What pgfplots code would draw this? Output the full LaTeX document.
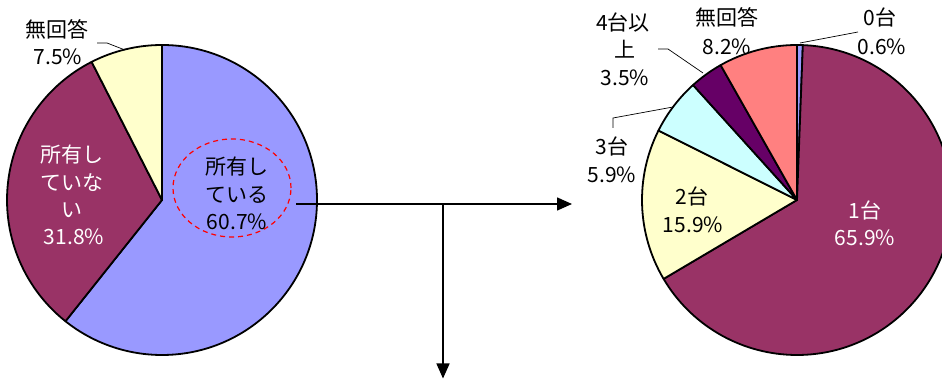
\documentclass[border=0pt]{standalone}
\usepackage{fontspec}
\setmainfont{Noto Sans CJK JP}
\usepackage{pgfplots}
\pgfplotsset{compat=1.18}
\usetikzlibrary{arrows.meta}
\definecolor{cLav}{HTML}{9999FF}
\definecolor{cMag}{HTML}{993366}
\definecolor{cYel}{HTML}{FFFFCC}
\definecolor{cCya}{HTML}{CCFFFF}
\definecolor{cPur}{HTML}{660066}
\definecolor{cSal}{HTML}{FF8080}
% #1 cx, #2 cy, #3 r, #4 cumulative start (%), #5 value (%), #6 colour
\newcommand{\slice}[6]{%
  \filldraw[fill=#6,draw=black,line width=1.8pt,line join=round]
    (axis cs:#1,#2) -- ++({90-3.6*(#4)}:#3pt)
    arc[start angle={90-3.6*(#4)},end angle={90-3.6*(#4+#5)},radius=#3pt] -- cycle;}
\newcommand{\lbl}[4][black]{%
  \node[anchor=base,text=#1,inner sep=0pt,font=\fontsize{21pt}{25pt}\selectfont] at (axis cs:#2,{379-#3-7.5}) {#4};}
\begin{document}
\begin{tikzpicture}
\begin{axis}[x=1pt,y=1pt,xmin=0,xmax=942,ymin=0,ymax=379,
  hide axis,clip=true,anchor=south west,at={(0,0)}]
% left pie: 所有している / 所有していない / 無回答
\slice{162}{179}{155}{0}{60.7}{cLav}
\slice{162}{179}{155}{60.7}{31.8}{cMag}
\slice{162}{179}{155}{92.5}{7.5}{cYel}
% right pie: 0台 / 1台 / 2台 / 3台 / 4台以上 / 無回答
\slice{797}{179}{155}{0}{0.6}{cLav}
\slice{797}{179}{155}{0.6}{65.9}{cMag}
\slice{797}{179}{155}{66.5}{15.9}{cYel}
\slice{797}{179}{155}{82.4}{5.9}{cCya}
\slice{797}{179}{155}{88.3}{3.5}{cPur}
\slice{797}{179}{155}{91.8}{8.2}{cSal}
% dashed ellipse
\draw[red,dashed,line width=1.2pt,dash pattern=on 5pt off 4pt] (axis cs:232,191) ellipse[x radius=59pt,y radius=49pt];
% arrows
\draw[line width=1.5pt,-{Triangle[length=15pt,width=13pt]}] (axis cs:296,175) -- (axis cs:572,175);
\draw[line width=2.5pt] (axis cs:403,175) -- (axis cs:443,175);
\draw[line width=1.5pt,-{Triangle[length=15pt,width=13pt]}] (axis cs:443,175) -- (axis cs:443,0.5);
% leader lines
\draw[line width=0.7pt] (axis cs:97,336) -- (axis cs:107,336) -- (axis cs:125,329);
\draw[line width=0.7pt] (axis cs:658,330) -- (axis cs:668,330) -- (axis cs:703,306);
\draw[line width=0.7pt] (axis cs:858,347) -- (axis cs:800,336);
\draw[line width=0.7pt] (axis cs:613,251) -- (axis cs:613,261) -- (axis cs:673,272);
% labels left
\lbl{57}{30}{無回答}
\lbl{58}{57}{7.5\%}
\lbl[white]{72}{155}{所有し}
\lbl[white]{72}{183}{ていな}
\lbl[white]{72}{210}{い}
\lbl[white]{74}{237}{31.8\%}
\lbl{237}{167}{所有し}
\lbl{237}{195}{ている}
\lbl{237}{222}{60.7\%}
% labels right
\lbl{623}{23}{4台以}
\lbl{625}{50}{上}
\lbl{625}{78}{3.5\%}
\lbl{727}{18}{無回答}
\lbl{727}{47}{8.2\%}
\lbl{880}{18}{0台}
\lbl{882}{47}{0.6\%}
\lbl{612}{147}{3台}
\lbl{612}{175}{5.9\%}
\lbl{692}{197}{2台}
\lbl{693}{225}{15.9\%}
\lbl[white]{865}{211}{1台}
\lbl[white]{865}{238}{65.9\%}
\end{axis}
\pgfresetboundingbox
\path (0,0) rectangle (942pt,379pt);
\end{tikzpicture}
\end{document}
